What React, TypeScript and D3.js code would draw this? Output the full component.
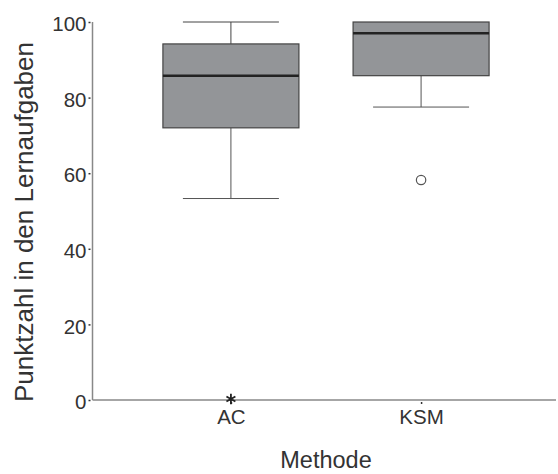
import React, { useEffect, useRef } from "react";
import * as d3 from "d3";

const categories = ["AC", "KSM"];
const whiskerLow = [53.3, 77.5];
const q1 = [72.0, 85.8];
const median = [85.8, 97.0];
const q3 = [94.2, 100];
const whiskerHigh = [100, 100];
// outliers: kind "extreme" = star, "outlier" = circle
const outliers = [
  { cat: "AC", value: 0, kind: "extreme" },
  { cat: "KSM", value: 58.2, kind: "outlier" },
];
const yTicks = [0, 20, 40, 60, 80, 100];

function App() {
  const ref = useRef<SVGSVGElement>(null);

  useEffect(() => {
    const svg = d3.select(ref.current);
    svg.selectAll("*").remove();

    const width = 558;
    const height = 474;
    const left = 92.5, right = 556, top = 22, bottom = 400;
    const font = "Arial, 'Liberation Sans', sans-serif";

    const y = d3.scaleLinear().domain([0, 100]).range([bottom, top]);
    const x = d3.scalePoint<string>().domain(categories).range([94, 558]).padding(0.72);

    const boxW = 136;
    const capW = 96;

    svg.attr("width", width).attr("height", height);

    const boxes = categories.map((c, i) => ({
      c, lo: whiskerLow[i], q1: q1[i], med: median[i], q3: q3[i], hi: whiskerHigh[i],
    }));

    const g = svg.append("g");

    // whiskers
    boxes.forEach(b => {
      const cx = x(b.c)!;
      if (b.hi > b.q3) {
        g.append("line").attr("x1", cx).attr("x2", cx).attr("y1", y(b.q3)).attr("y2", y(b.hi))
          .attr("stroke", "#444").attr("stroke-width", 1);
        g.append("line").attr("x1", cx - capW / 2).attr("x2", cx + capW / 2).attr("y1", y(b.hi)).attr("y2", y(b.hi))
          .attr("stroke", "#444").attr("stroke-width", 1);
      }
      g.append("line").attr("x1", cx).attr("x2", cx).attr("y1", y(b.q1)).attr("y2", y(b.lo))
        .attr("stroke", "#555").attr("stroke-width", 1);
      g.append("line").attr("x1", cx - capW / 2).attr("x2", cx + capW / 2).attr("y1", y(b.lo)).attr("y2", y(b.lo))
        .attr("stroke", "#555").attr("stroke-width", 1);
    });

    // boxes
    g.selectAll("rect.box")
      .data(boxes)
      .join("rect")
      .attr("class", "box")
      .attr("x", d => x(d.c)! - boxW / 2)
      .attr("y", d => y(d.q3))
      .attr("width", boxW)
      .attr("height", d => y(d.q1) - y(d.q3))
      .attr("fill", "#939598")
      .attr("stroke", "#444")
      .attr("stroke-width", 1.2);

    // medians
    g.selectAll("line.median")
      .data(boxes)
      .join("line")
      .attr("class", "median")
      .attr("x1", d => x(d.c)! - boxW / 2)
      .attr("x2", d => x(d.c)! + boxW / 2)
      .attr("y1", d => y(d.med))
      .attr("y2", d => y(d.med))
      .attr("stroke", "#222")
      .attr("stroke-width", 2.5);

    // axes
    const yAxis = svg.append("g")
      .attr("transform", `translate(${left},0)`)
      .call(d3.axisLeft(y).tickValues(yTicks).tickSize(3).tickPadding(3));
    yAxis.select(".domain").attr("stroke", "#888").attr("stroke-width", 1.5).attr("d", `M0,${top}V${bottom}`);
    yAxis.selectAll(".tick line").attr("stroke", "#333").attr("stroke-width", 1.5).attr("x2", -2).attr("x1", -4);
    yAxis.selectAll(".tick text").attr("fill", "#333").attr("dy", "0.42em")
      .style("font-size", "20.5px").style("font-family", font);

    const xAxis = svg.append("g")
      .attr("transform", `translate(0,${bottom})`)
      .call(d3.axisBottom(x).tickSize(3).tickPadding(6));
    xAxis.select(".domain").attr("stroke", "#888").attr("stroke-width", 1.5).attr("d", `M${left},0H${right}`);
    xAxis.selectAll(".tick line").attr("stroke", "#333").attr("stroke-width", 1.5).attr("y1", 2).attr("y2", 4);
    xAxis.selectAll(".tick text").attr("fill", "#333").style("font-size", "20.5px").style("font-family", font);

    // outliers
    outliers.forEach(o => {
      const cx = x(o.cat)!;
      if (o.kind === "outlier") {
        g.append("circle").attr("cx", cx).attr("cy", y(o.value)).attr("r", 4.7)
          .attr("fill", "#fff").attr("stroke", "#555").attr("stroke-width", 1.2);
      } else {
        svg.append("path")
          .attr("d", d3.symbol(d3.symbolAsterisk, 75)())
          .attr("transform", `translate(${cx},${y(o.value) - 1})`)
          .attr("stroke", "#222").attr("stroke-width", 1.8).attr("fill", "none");
      }
    });

    // titles
    svg.append("text")
      .attr("transform", `translate(33,${222}) rotate(-90)`)
      .attr("text-anchor", "middle")
      .attr("fill", "#333")
      .style("font-size", "26px")
      .style("font-family", font)
      .text("Punktzahl in den Lernaufgaben");

    svg.append("text")
      .attr("x", 326)
      .attr("y", 468)
      .attr("text-anchor", "middle")
      .attr("fill", "#333")
      .style("font-size", "23.5px")
      .style("font-family", font)
      .text("Methode");
  }, []);

  return <svg ref={ref} style={{ position: "absolute", left: 0, top: 0 }} />;
}

export default App;
